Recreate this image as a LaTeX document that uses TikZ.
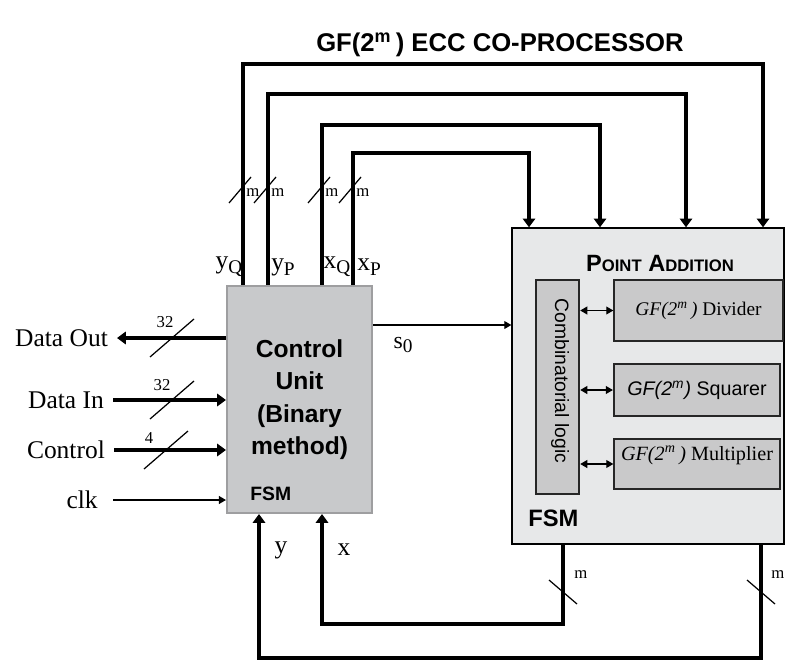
\documentclass[tikz,border=0pt]{standalone}
\usepackage{fontspec}
\setmainfont{Liberation Serif}
\setsansfont{Liberation Sans}
\usetikzlibrary{arrows.meta}

\definecolor{cufill}{RGB}{200,201,203}
\definecolor{cuedge}{RGB}{158,158,160}
\definecolor{pafill}{RGB}{231,232,233}
\definecolor{unitfill}{RGB}{201,201,202}

% lowered subscript in text font (y_Q, s_0)
\newcommand{\lowsub}[1]{\raisebox{-.45ex}{\fontsize{11}{11}\selectfont #1}}

\tikzset{
  bus/.style={line width=1.8pt, >={Triangle[length=5pt,width=7pt]}},
  wire/.style={line width=0.6pt, >={Triangle[length=4pt,width=4.5pt]}},
  slash/.style={line width=0.7pt},
  wlabel/.style={font=\fontsize{14.5}{16}\selectfont, inner sep=0pt},
  buswidth/.style={font=\fontsize{9.5}{10}\selectfont, inner sep=0pt},
  cubox/.style={draw=cuedge, fill=cufill, line width=1.2pt, inner sep=0pt,
    minimum width=2.9cm, minimum height=4.54cm, align=center,
    font=\sffamily\bfseries\fontsize{14}{18.5}\selectfont},
  pabox/.style={draw=black, fill=pafill, line width=0.8pt,
    minimum width=5.44cm, minimum height=6.32cm},
  unitbox/.style={draw=black!85, fill=unitfill, line width=0.8pt, inner sep=0pt,
    minimum width=3.32cm, font=\fontsize{11.5}{12}\selectfont},
}

\begin{document}
\begin{tikzpicture}[x=0.02cm, y=-0.02cm]
  \useasboundingbox (0,0) rectangle (787,662);

  % --- title ---
  \node[font=\sffamily\bfseries\fontsize{14.6}{18}\selectfont] (title) at (500,45)
    {GF(2\textsuperscript{m}\,) ECC CO-PROCESSOR};

  % --- control unit ---
  \node[cubox] (cu) at (299.5,399.5) {Control\\Unit\\(Binary\\method)};
  \node[font=\sffamily\bfseries\fontsize{11}{12}\selectfont, anchor=west, inner sep=0pt]
    (cufsm) at (250,494) {FSM};

  % --- point addition block ---
  \node[pabox] (pa) at (648,386) {};
  \node[font=\sffamily\bfseries\fontsize{13.4}{14}\selectfont] (patitle) at (660,263)
    {P{\fontsize{9.5}{10}\selectfont OINT} A{\fontsize{9.5}{10}\selectfont DDITION}};
  \node[font=\sffamily\bfseries\fontsize{13.5}{14}\selectfont, anchor=west, inner sep=0pt]
    (pafsm) at (528,518) {FSM};

  \node[draw=black!85, fill=unitfill, line width=1.4pt, minimum width=0.86cm,
    minimum height=4.28cm] (comb) at (557.5,387) {};
  \node[rotate=-90, font=\sffamily\fontsize{11}{12}\selectfont] (combtxt) at (560,381)
    {Combinatorial logic};

  \node[unitbox, minimum width=3.38cm, minimum height=1.22cm,
    font=\fontsize{11}{12}\selectfont] (div) at (698.5,310.5)
    {\textit{GF(2\textsuperscript{m}\,)} Divider};
  \node[unitbox, line width=1.3pt, minimum height=1.04cm,
    font=\sffamily\fontsize{11.2}{12}\selectfont] (sq) at (697,390)
    {\textit{GF(2\textsuperscript{m})} Squarer};
  \node[unitbox, minimum height=1cm, text depth=12.5pt] (mul) at (697,464)
    {\textit{GF(2\textsuperscript{m}\,)} Multiplier};

  \draw[wire,<->] (comb.east |- div.west) -- (div.west);
  \draw[wire,<->] (comb.east |- sq.west) -- (sq.west);
  \draw[wire,<->] (comb.east |- mul.west) -- (mul.west);

  % --- s0 ---
  \draw[wire,->] (cu.east |- 0,325) -- (pa.west |- 0,325);
  \node[wlabel, font=\fontsize{13.5}{14}\selectfont] (s0) at (403,345) {s\lowsub{0}};

  % --- coordinates out of the top (y_Q, y_P, x_Q, x_P) ---
  \draw[bus,->] (cu.north -| 243,0) |- (763,64) -- (pa.north -| 763,0);
  \draw[bus,->] (cu.north -| 268,0) |- (686,94) -- (pa.north -| 686,0);
  \draw[bus,->] (cu.north -| 322,0) |- (600,125) -- (pa.north -| 600,0);
  \draw[bus,->] (cu.north -| 353,0) |- (529,153) -- (pa.north -| 529,0);

  \node[wlabel] (yq) at (229,267) {y\lowsub{Q}};
  \node[wlabel] (yp) at (283,267) {y\lowsub{P}};
  \node[wlabel] (xq) at (337,267) {x\lowsub{Q}};
  \node[wlabel] (xp) at (369,267) {x\lowsub{P}};

  \draw[slash] (240,190) ++(-11,13) -- ++(22,-26);
  \draw[slash] (265,190) ++(-11,13) -- ++(22,-26);
  \draw[slash] (319,190) ++(-11,13) -- ++(22,-26);
  \draw[slash] (350,190) ++(-11,13) -- ++(22,-26);
  \node[buswidth, anchor=west] (myq) at (246,193) {m};
  \node[buswidth, anchor=west] (myp) at (271,193) {m};
  \node[buswidth, anchor=west] (mxq) at (325,193) {m};
  \node[buswidth, anchor=west] (mxp) at (356,193) {m};

  % --- results back into the control unit (x, y) ---
  \draw[bus,->] (pa.south -| 563,0) |- (322,624) -- (cu.south -| 322,0);
  \draw[bus,->] (pa.south -| 761,0) |- (259,658) -- (cu.south -| 259,0);
  \node[wlabel] (ylbl) at (281,550) {y};
  \node[wlabel] (xlbl) at (344,550) {x};

  \draw[slash] (563,592) ++(-14,-12) -- ++(28,24);
  \draw[slash] (761,592) ++(-14,-12) -- ++(28,24);
  \node[buswidth, anchor=west] (mx) at (574,575) {m};
  \node[buswidth, anchor=west] (my) at (771,575) {m};

  % --- external interface ---
  \node[wlabel, anchor=east, inner xsep=5pt] (dout) at (117,338) {Data Out};
  \node[wlabel, anchor=east, inner xsep=5pt] (din) at (113,400) {Data In};
  \node[wlabel, anchor=east, inner xsep=5pt] (ctrl) at (114,450) {Control};
  \node[wlabel, anchor=east, inner xsep=8.5pt] (clk) at (113,500) {clk};

  \draw[bus,->] (cu.west |- dout.east) -- (dout.east);
  \draw[bus,->] (din.east) -- (cu.west |- din.east);
  \draw[bus,->] (ctrl.east) -- (cu.west |- ctrl.east);
  \draw[wire,->] (clk.east) -- (cu.west |- clk.east);

  \draw[slash] (172,338) ++(-22,19) -- ++(44,-38);
  \draw[slash] (172,400) ++(-22,19) -- ++(44,-38);
  \draw[slash] (166,450) ++(-22,19) -- ++(44,-38);
  \node[buswidth] (wdout) at (165,322) {32};
  \node[buswidth] (wdin) at (162,385) {32};
  \node[buswidth] (wctrl) at (149,438) {4};
\end{tikzpicture}
\end{document}
